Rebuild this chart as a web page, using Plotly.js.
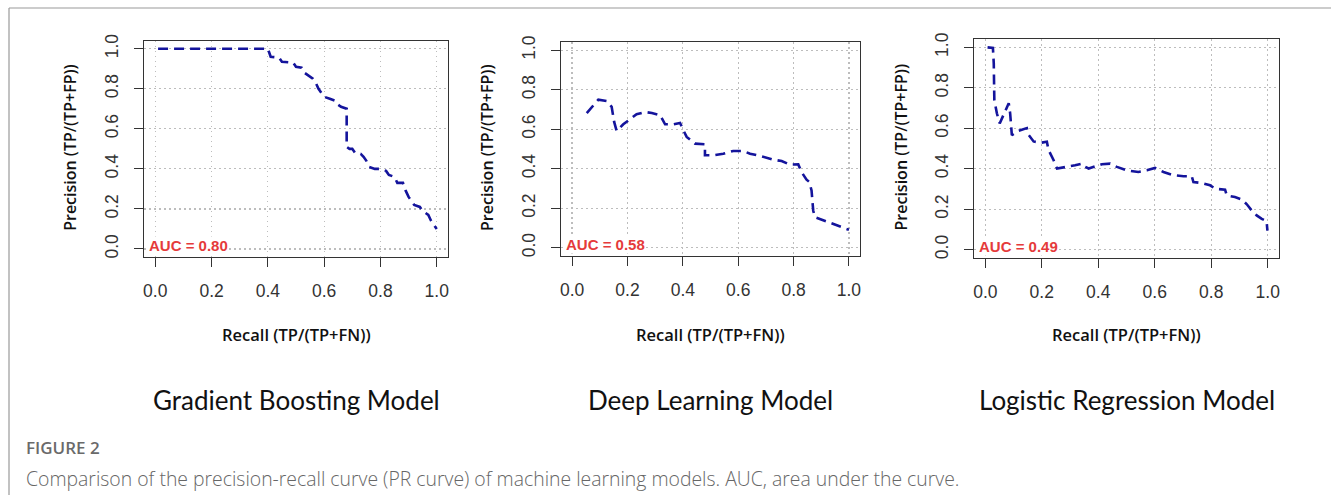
<!DOCTYPE html>
<html>
<head>
<meta charset="utf-8">
<script src="https://cdn.plot.ly/plotly-3.0.1.min.js"></script>
<style>html,body{margin:0;padding:0;background:#fff;}#chart{width:1331px;height:495px;}</style>
</head>
<body>
<div id="chart"></div>
<script>
// ---------- data ----------
const tickValues = [0, 0.2, 0.4, 0.6, 0.8, 1.0];
const tickLabels = ["0.0", "0.2", "0.4", "0.6", "0.8", "1.0"];

const modelNames = ["Gradient Boosting Model", "Deep Learning Model", "Logistic Regression Model"];
const aucLabels = ["AUC = 0.80", "AUC = 0.58", "AUC = 0.49"];
const xTitle = "Recall (TP/(TP+FN))";
const yTitle = "Precision (TP/(TP+FP))";
const figureLabel = "FIGURE 2";
const captionText = "Comparison of the precision-recall curve (PR curve) of machine learning models. AUC, area under the curve.";

const gbRecall = [0.01, 0.40, 0.41, 0.44, 0.45, 0.49, 0.50, 0.52, 0.53, 0.54, 0.56, 0.57, 0.58, 0.59, 0.60, 0.62, 0.64, 0.65, 0.66, 0.68, 0.68, 0.68, 0.69, 0.70, 0.71, 0.73, 0.74, 0.75, 0.76, 0.78, 0.80, 0.82, 0.83, 0.85, 0.86, 0.88, 0.89, 0.90, 0.91, 0.92, 0.94, 0.95, 0.97, 0.98, 1.00];
const gbPrecision = [1.00, 1.00, 0.96, 0.955, 0.935, 0.93, 0.91, 0.905, 0.88, 0.87, 0.85, 0.83, 0.80, 0.78, 0.76, 0.75, 0.74, 0.72, 0.71, 0.70, 0.68, 0.51, 0.50, 0.50, 0.48, 0.475, 0.46, 0.44, 0.41, 0.40, 0.40, 0.39, 0.37, 0.36, 0.33, 0.33, 0.29, 0.26, 0.24, 0.22, 0.21, 0.19, 0.17, 0.14, 0.10];

const dlRecall = [0.053, 0.095, 0.125, 0.143, 0.152, 0.161, 0.185, 0.233, 0.264, 0.288, 0.318, 0.336, 0.366, 0.390, 0.402, 0.414, 0.444, 0.480, 0.480, 0.510, 0.546, 0.582, 0.618, 0.643, 0.685, 0.727, 0.757, 0.787, 0.817, 0.829, 0.847, 0.857, 0.865, 0.871, 0.877, 0.907, 0.943, 0.974, 1.000];
const dlPrecision = [0.682, 0.750, 0.743, 0.713, 0.637, 0.591, 0.625, 0.676, 0.687, 0.682, 0.671, 0.625, 0.625, 0.632, 0.595, 0.561, 0.527, 0.524, 0.468, 0.468, 0.476, 0.490, 0.490, 0.476, 0.463, 0.446, 0.439, 0.421, 0.422, 0.383, 0.345, 0.333, 0.290, 0.189, 0.155, 0.139, 0.122, 0.105, 0.091];

const lrRecall = [0.008, 0.027, 0.030, 0.032, 0.041, 0.051, 0.067, 0.083, 0.088, 0.094, 0.112, 0.130, 0.147, 0.153, 0.171, 0.195, 0.218, 0.224, 0.236, 0.242, 0.254, 0.289, 0.318, 0.342, 0.354, 0.366, 0.389, 0.413, 0.442, 0.466, 0.501, 0.542, 0.572, 0.601, 0.631, 0.666, 0.702, 0.731, 0.737, 0.767, 0.796, 0.814, 0.849, 0.855, 0.884, 0.908, 0.926, 0.943, 0.961, 0.979, 0.996, 0.999];
const lrPrecision = [1.000, 0.997, 0.921, 0.740, 0.674, 0.624, 0.674, 0.724, 0.674, 0.566, 0.584, 0.593, 0.601, 0.568, 0.535, 0.528, 0.533, 0.492, 0.459, 0.442, 0.401, 0.409, 0.417, 0.425, 0.409, 0.401, 0.412, 0.422, 0.425, 0.409, 0.392, 0.384, 0.392, 0.404, 0.384, 0.368, 0.363, 0.363, 0.334, 0.329, 0.318, 0.301, 0.296, 0.268, 0.260, 0.248, 0.224, 0.194, 0.169, 0.152, 0.141, 0.094];

// ---------- layout helpers (pixel geometry) ----------
const W = 1331, H = 495;
const fx = p => p / W;
const fy = p => 1 - p / H;
const frames = [
  {l: 144, r: 448, t: 40.7, b: 257},
  {l: 561, r: 860, t: 42.3, b: 255.7},
  {l: 974, r: 1279, t: 39.3, b: 257.7}
];
const series = [[gbRecall, gbPrecision], [dlRecall, dlPrecision], [lrRecall, lrPrecision]];

const lineColor = '#14149c';
const axisColor = '#333333';

const data = [];
const layout = {
  width: W, height: H,
  margin: {l: 0, r: 0, t: 0, b: 0},
  paper_bgcolor: '#ffffff', plot_bgcolor: '#ffffff',
  showlegend: false,
  annotations: [], shapes: []
};

frames.forEach((f, i) => {
  const n = i === 0 ? '' : String(i + 1);
  data.push({
    x: series[i][0], y: series[i][1],
    xaxis: 'x' + n, yaxis: 'y' + n,
    type: 'scatter', mode: 'lines',
    line: {color: lineColor, width: 2.6, dash: '10px,6px'},
    hoverinfo: 'skip'
  });
  const common = {
    range: [-0.04, 1.04],
    tickmode: 'array', tickvals: tickValues, ticktext: tickLabels,
    ticks: 'outside', ticklen: 9, tickwidth: 1, tickcolor: axisColor,
    showline: true, mirror: true, linecolor: axisColor, linewidth: 1.2,
    showgrid: true, gridcolor: '#bdbdbd', griddash: '1.5px,3.5px', gridwidth: 1.2,
    zeroline: false, fixedrange: true,
    tickfont: {family: 'Liberation Sans, Arial, sans-serif', size: 17.5, color: '#333'}
  };
  layout['xaxis' + n] = Object.assign({}, common, {
    domain: [fx(f.l), fx(f.r)], anchor: 'y' + n, ticklabelstandoff: 9
  });
  layout['yaxis' + n] = Object.assign({}, common, {
    domain: [fy(f.b), fy(f.t)], anchor: 'x' + n, tickangle: -90, ticklabelstandoff: 9
  });
  const cx = (f.l + f.r) / 2;
  // x title
  layout.annotations.push({
    xref: 'paper', yref: 'paper', x: fx(cx), y: fy(334), xanchor: 'center', yanchor: 'middle',
    text: xTitle, showarrow: false,
    font: {family: 'Open Sans, sans-serif', size: 16.5, color: '#111', weight: 600}
  });
  // y title
  layout.annotations.push({
    xref: 'paper', yref: 'paper', x: fx(f.l - 74), y: fy((f.t + f.b) / 2 - 1), xanchor: 'center', yanchor: 'middle',
    text: yTitle, showarrow: false, textangle: -90,
    font: {family: 'Open Sans, sans-serif', size: 16, color: '#111', weight: 600}
  });
  // AUC label
  layout.annotations.push({
    xref: 'x' + n, yref: 'y' + n, x: -0.025, y: 0.015, xanchor: 'left', yanchor: 'middle',
    text: '<b>' + aucLabels[i] + '</b>', showarrow: false,
    bgcolor: '#ffffff', borderpad: 0,
    font: {family: 'Liberation Sans, Arial, sans-serif', size: 15, color: '#e53b3b'}
  });
  // model name
  layout.annotations.push({
    xref: 'paper', yref: 'paper', x: fx(cx), y: fy(400), xanchor: 'center', yanchor: 'middle',
    text: modelNames[i], showarrow: false,
    font: {family: 'Lato, sans-serif', size: 26, color: '#111'}
  });
});

// figure label and caption
layout.annotations.push({
  xref: 'paper', yref: 'paper', x: fx(24), y: fy(447), xanchor: 'left', yanchor: 'middle',
  text: figureLabel, showarrow: false,
  font: {family: 'Open Sans, sans-serif', size: 17, color: '#6a6a6a', weight: 600}
});
layout.annotations.push({
  xref: 'paper', yref: 'paper', x: fx(24), y: fy(478), xanchor: 'left', yanchor: 'middle',
  text: captionText, showarrow: false,
  font: {family: 'Open Sans, sans-serif', size: 19.4, color: '#666', weight: 300}
});

// outer border (top and left)
layout.shapes.push({type: 'line', xref: 'paper', yref: 'paper', x0: fx(9), x1: 1, y0: fy(8), y1: fy(8), line: {color: '#999', width: 1.2}});
layout.shapes.push({type: 'line', xref: 'paper', yref: 'paper', x0: fx(9), x1: fx(9), y0: fy(8), y1: 0, line: {color: '#999', width: 1.2}});

Plotly.newPlot('chart', data, layout, {displayModeBar: false, staticPlot: true});
</script>
</body>
</html>
